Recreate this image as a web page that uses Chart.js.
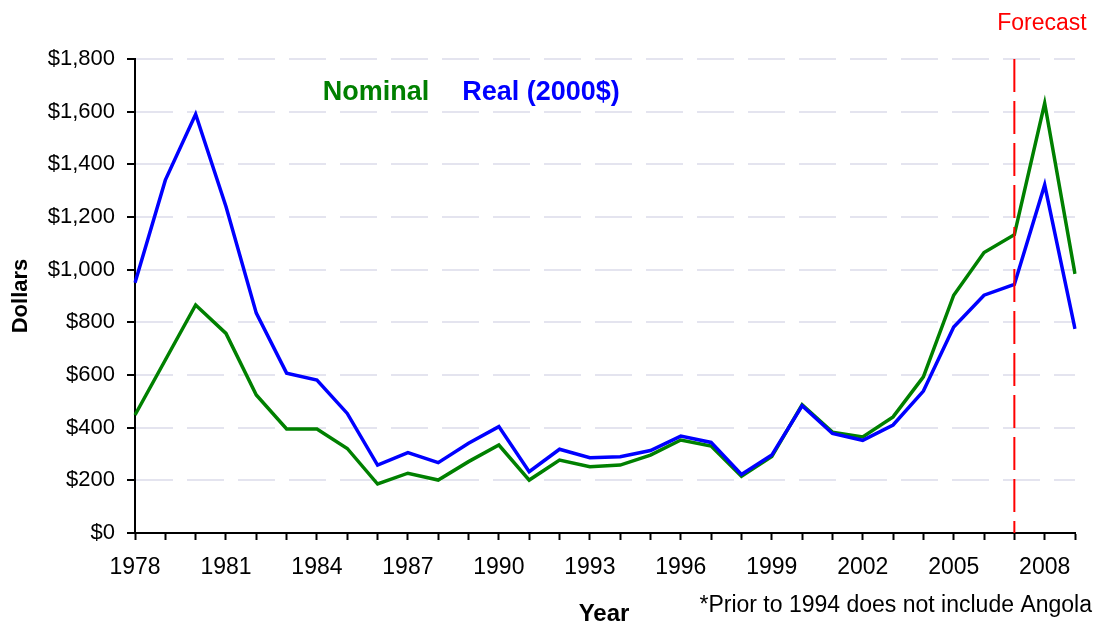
<!DOCTYPE html>
<html>
<head>
<meta charset="utf-8">
<script src="https://cdn.jsdelivr.net/npm/chart.js@4.4.1/dist/chart.umd.min.js"></script>
<style>
  html, body { margin: 0; padding: 0; background: #ffffff; }
  #wrap { position: relative; width: 1096px; height: 623px; }
</style>
</head>
<body>
<div id="wrap"><canvas id="c" width="1096" height="623"></canvas></div>
<script>
const years = ['1978','1979','1980','1981','1982','1983','1984','1985','1986','1987','1988','1989','1990','1991','1992','1993','1994','1995','1996','1997','1998','1999','2000','2001','2002','2003','2004','2005','2006','2007','2008','2009'];
const nominal = [448,657,866,758,524,395,395,321,186,227,201,271,334,201,277,252,258,296,353,330,215,290,487,383,365,441,593,903,1065,1133,1632,984];
const real = [950,1340,1590,1240,835,607,581,454,258,305,267,341,404,233,318,286,290,313,368,344,222,296,483,378,352,410,539,782,903,944,1322,775];
const yTicks = [0,200,400,600,800,1000,1200,1400,1600,1800];
const forecastYear = '2007';
const seriesNames = ['Nominal', 'Real (2000$)'];
const labelEvery = 3;

const FONT = "'Liberation Sans', Arial, sans-serif";
Chart.defaults.font.family = FONT;
Chart.defaults.color = '#000';

const decor = {
  id: 'decor',
  afterDatasetsDraw(chart) {
    const ctx = chart.ctx;
    const xs = chart.scales.x;
    const area = chart.chartArea;
    const fx = xs.getPixelForValue(years.indexOf(forecastYear));
    ctx.save();
    ctx.strokeStyle = '#ff0000';
    ctx.lineWidth = 2;
    ctx.setLineDash([33, 9]);
    ctx.beginPath();
    ctx.moveTo(fx, area.top);
    ctx.lineTo(fx, area.bottom);
    ctx.stroke();
    ctx.restore();
  },
  afterDraw(chart) {
    const ctx = chart.ctx;
    ctx.save();
    ctx.textBaseline = 'alphabetic';
    ctx.font = "bold 27px " + FONT;
    ctx.textAlign = 'center';
    ctx.fillStyle = '#008000';
    ctx.fillText(seriesNames[0], 376, 100);
    ctx.fillStyle = '#0000ff';
    ctx.fillText(seriesNames[1], 541, 100);
    ctx.font = "23px " + FONT;
    ctx.fillStyle = '#ff0000';
    ctx.fillText('Forecast', 1042, 30);
    ctx.fillStyle = '#000';
    ctx.font = "bold 24px " + FONT;
    ctx.fillText('Year', 604, 621);
    ctx.font = "bold 22px " + FONT;
    ctx.save();
    ctx.translate(27, 296);
    ctx.rotate(-Math.PI / 2);
    ctx.fillText('Dollars', 0, 0);
    ctx.restore();
    ctx.font = "23px " + FONT;
    ctx.textAlign = 'right';
    ctx.fillText('*Prior to 1994 does not include Angola', 1092, 612);
    ctx.restore();
  }
};

new Chart(document.getElementById('c'), {
  type: 'line',
  data: {
    labels: years,
    datasets: [
      { label: seriesNames[0], data: nominal, borderColor: '#008000', backgroundColor: '#008000', borderWidth: 3.5, pointRadius: 0, tension: 0, order: 2 },
      { label: seriesNames[1], data: real, borderColor: '#0000ff', backgroundColor: '#0000ff', borderWidth: 3.5, pointRadius: 0, tension: 0, order: 1 }
    ]
  },
  options: {
    responsive: false,
    animation: false,
    layout: { padding: { top: 59, right: 21, left: 0, bottom: 0 } },
    plugins: { legend: { display: false }, tooltip: { enabled: false } },
    scales: {
      x: {
        type: 'category',
        offset: false,
        afterFit(s) { s.height = 90; },
        grid: { drawOnChartArea: false, drawTicks: true, tickLength: 7, tickColor: '#000', tickWidth: 2 },
        border: { display: true, color: '#000', width: 2 },
        ticks: {
          autoSkip: false, maxRotation: 0, minRotation: 0, padding: 14,
          font: { size: 23 }, color: '#000',
          callback(v, i) { return i % labelEvery === 0 ? years[i] : ''; }
        }
      },
      y: {
        min: yTicks[0], max: yTicks[yTicks.length - 1],
        afterFit(s) { s.width = 135; },
        afterBuildTicks(s) { s.ticks = yTicks.map(v => ({ value: v })); },
        grid: { color: '#e4e4ef', lineWidth: 2, drawTicks: true, tickLength: 8, tickColor: '#000', tickWidth: 2, tickBorderDash: [] },
        border: { display: true, color: '#000', width: 2, dash: [37, 14] },
        ticks: {
          padding: 12, font: { size: 22 }, color: '#000',
          callback(v) { return '$' + Number(v).toLocaleString('en-US'); }
        }
      }
    }
  },
  plugins: [decor]
});
</script>
</body>
</html>
